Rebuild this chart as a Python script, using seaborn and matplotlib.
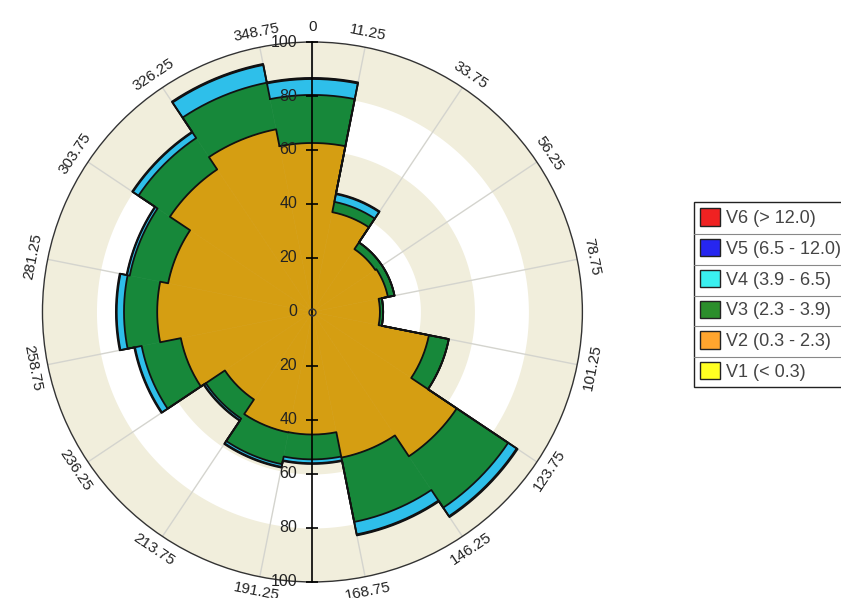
import numpy as np
import matplotlib
matplotlib.use("Agg")
import matplotlib.pyplot as plt
from matplotlib.patches import Patch
from matplotlib.lines import Line2D
import seaborn as sns

# --- data (percent, stacked per direction) ---
directions = ['N', 'NNE', 'NE', 'ENE', 'E', 'ESE', 'SE', 'SSE',
              'S', 'SSW', 'SW', 'WSW', 'W', 'WNW', 'NW', 'NNW']
dir_deg = [0, 22.5, 45, 67.5, 90, 112.5, 135, 157.5,
           180, 202.5, 225, 247.5, 270, 292.5, 315, 337.5]

v1 = [0, 0, 0, 0, 0, 0, 0, 0, 0, 0, 0, 0, 0, 0, 0, 0]
v2 = [62.6, 37.7, 28.0, 28.5, 25.0, 44.0, 64.3, 55.0,
      45.4, 45.5, 39.0, 49.7, 57.5, 54.5, 63.5, 69.0]
v3 = [17.8, 3.9, 3.0, 2.5, 1.2, 7.5, 22.9, 24.3,
      9.2, 12.0, 8.5, 14.8, 12.3, 14.5, 14.0, 17.6]
v4 = [5.9, 2.9, 0, 0, 0, 0, 3.8, 4.7,
      1.4, 1.0, 0.8, 2.5, 2.7, 1.0, 2.5, 6.7]
v5 = [0.4, 0.3, 0, 0, 0, 0, 0.4, 0.4,
      0.3, 0.3, 0.2, 0.3, 0.3, 0.2, 0.3, 0.4]
v6 = [0, 0, 0, 0, 0, 0, 0, 0, 0, 0, 0, 0, 0, 0, 0, 0]

series_labels = ['V1 (< 0.3)', 'V2 (0.3 - 2.3)', 'V3 (2.3 - 3.9)',
                 'V4 (3.9 - 6.5)', 'V5 (6.5 - 12.0)', 'V6 (> 12.0)']

tick_deg = [0, 11.25, 33.75, 56.25, 78.75, 101.25, 123.75, 146.25, 168.75,
            191.25, 213.75, 236.25, 258.75, 281.25, 303.75, 326.25, 348.75]
tick_labels = ['0', '11.25', '33.75', '56.25', '78.75', '101.25', '123.75',
               '146.25', '168.75', '191.25', '213.75', '236.25', '258.75',
               '281.25', '303.75', '326.25', '348.75']
r_ticks = [20, 40, 60, 80, 100]

# --- style ---
sns.set_style("white")
plt.rcParams['font.family'] = ['Liberation Sans', 'DejaVu Sans']

bar_colors = ['#FFFF00', '#D59E12', '#17883A', '#2EBFEA', '#1C1CD8', '#FF0000']
legend_colors = ['#FFFF22', '#FFA52E', '#2B8E2B', '#3AF0F0', '#2626F0', '#F02222']

fig = plt.figure(figsize=(8.41, 5.98), dpi=100)
ax = fig.add_axes([0.0505, 0.0268, 0.642, 0.903], projection='polar')
ax.set_theta_zero_location('N')
ax.set_theta_direction(-1)
ax.set_rlim(0, 100)

# background rings
t = np.linspace(0, 2 * np.pi, 400)
for lo, hi in [(0, 20), (40, 60), (80, 100)]:
    ax.fill_between(t, lo, hi, color='#F1EEDC', lw=0, zorder=0.1)

# stacked bars (filled), outlines drawn per cumulative level afterwards
theta = np.deg2rad(dir_deg)
width = 2 * np.pi / len(directions)
bottom = np.zeros(len(directions))
levels = []
for vals, col in zip([v1, v2, v3, v4, v5, v6], bar_colors):
    vals = np.array(vals, dtype=float)
    mask = vals > 0
    if mask.any():
        ax.bar(theta[mask], vals[mask], width=width, bottom=bottom[mask],
               color=col, edgecolor=col, linewidth=0.4, zorder=2)
        levels.append((bottom + vals).copy())
    bottom += vals

# stair-step outline of every cumulative level
for tops in levels:
    th_line, r_line = [], []
    for th, top in zip(theta, tops):
        arc = np.linspace(th - width / 2, th + width / 2, 25)
        th_line.extend(arc)
        r_line.extend([top] * len(arc))
    th_line.append(th_line[0] + 2 * np.pi)
    r_line.append(r_line[0])
    ax.plot(th_line, r_line, color='#111111', lw=1.3, zorder=3)

# angular axis
ax.set_xticks(np.deg2rad(tick_deg))
ax.set_xticklabels(tick_labels, fontsize=11, color='#222222')
ax.tick_params(axis='x', labelrotation='auto', direction='in', length=5, pad=4)
ax.xaxis.grid(True, color='#D4D4CE', linewidth=1.0)
ax.yaxis.grid(False)
ax.set_yticks([])
ax.spines['polar'].set_color('#333333')
ax.spines['polar'].set_linewidth(1.0)
ax.set_axisbelow(True)

# vertical radial axis with labels
ax.plot([0, 0], [0, 100], color='black', lw=1.2, zorder=4, clip_on=False)
ax.plot([np.pi, np.pi], [0, 100], color='black', lw=1.2, zorder=4, clip_on=False)
for ang in [0, np.pi]:
    ax.plot([ang] * len(r_ticks), r_ticks, ls='none', marker='_', ms=9,
            mew=1.2, color='black', zorder=4, clip_on=False)
    for r in r_ticks:
        ax.annotate(str(r), xy=(ang, r), xytext=(-11, 0), textcoords='offset points',
                    ha='right', va='center', fontsize=11.5, color='#222222', zorder=5)
ax.annotate('0', xy=(0, 0), xytext=(-11, 0), textcoords='offset points',
            ha='right', va='center', fontsize=11.5, color='#222222', zorder=5)
ax.plot([0], [0], marker='o', ms=5, mfc='none', mec='#333333', zorder=5)

# legend (V6 on top), table-like with row separators
handles = [Patch(facecolor=c, edgecolor='#222222', label=l)
           for c, l in zip(legend_colors[::-1], series_labels[::-1])]
leg = fig.legend(handles=handles, loc='upper left', bbox_to_anchor=(0.825, 0.662),
                 fontsize=13, frameon=True, fancybox=False, framealpha=1,
                 edgecolor='#222222', handlelength=1.1, handleheight=1.1,
                 handletextpad=0.35, labelspacing=0.66, borderpad=0.35,
                 borderaxespad=0)
leg.get_frame().set_linewidth(1.0)
for txt in leg.get_texts():
    txt.set_color('#444444')

fig.canvas.draw()
renderer = fig.canvas.get_renderer()
frame_box = leg.get_frame().get_window_extent(renderer)
W, H = fig.bbox.width, fig.bbox.height
centers = [tx.get_window_extent(renderer) for tx in leg.get_texts()]
centers = [(b.y0 + b.y1) / 2 for b in centers]
for ya, yb in zip(centers[:-1], centers[1:]):
    y = (ya + yb) / 2
    fig.add_artist(Line2D([frame_box.x0 / W, frame_box.x1 / W], [y / H, y / H],
                          transform=fig.transFigure, color='#888888', lw=0.8,
                          zorder=10))

fig.savefig('out.png', dpi=100)
